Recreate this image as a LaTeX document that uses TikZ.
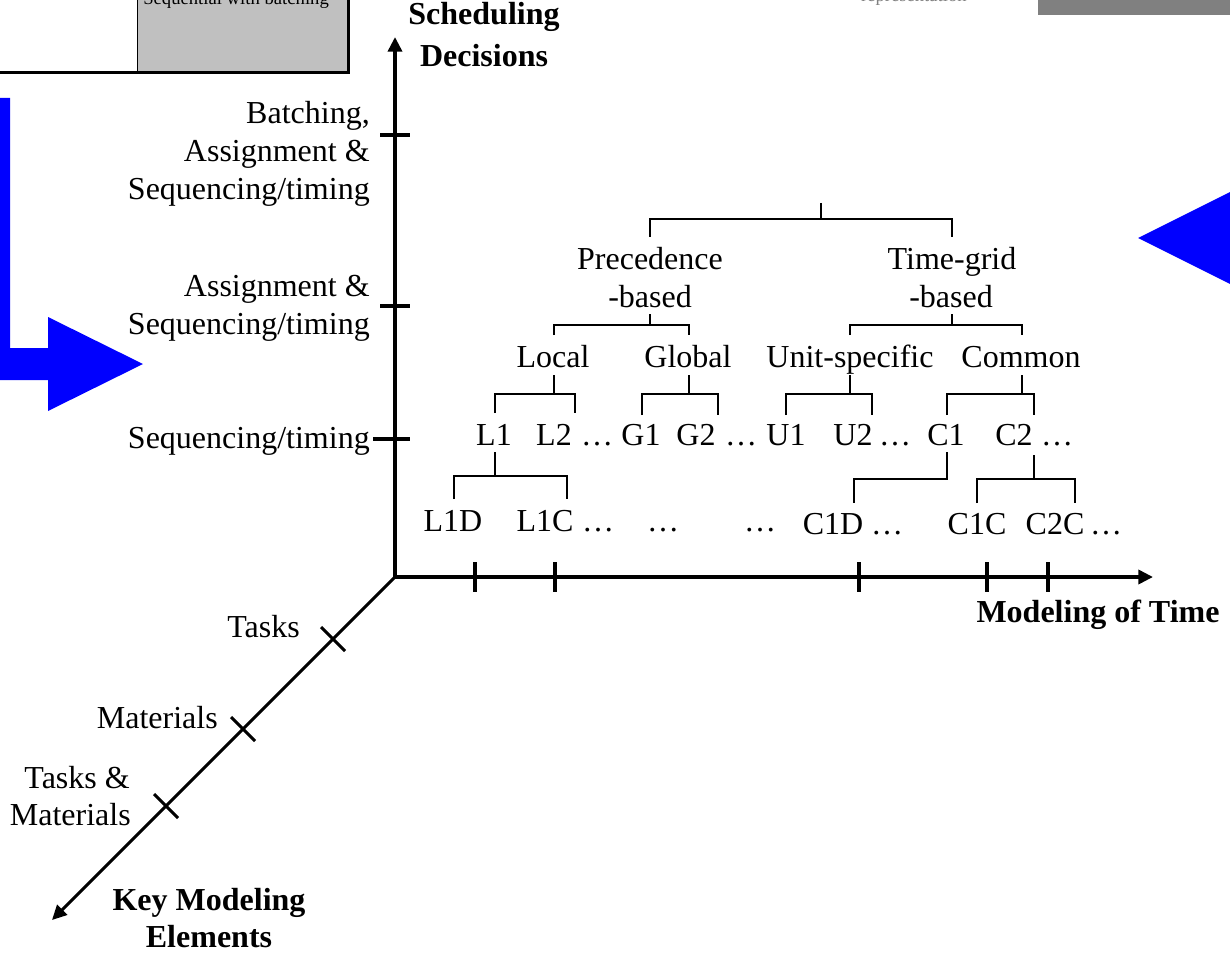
\documentclass[tikz,border=0pt]{standalone}
\usepackage{fontspec}
\setmainfont{Liberation Serif}
\usetikzlibrary{arrows.meta}
\definecolor{slideblue}{HTML}{0000FF}
\definecolor{boxgrey}{HTML}{C0C0C0}
\definecolor{bargrey}{HTML}{808080}
\begin{document}
\begin{tikzpicture}[x=0.75pt,y=-0.75pt,
  lbl/.style={font=\fontsize{24}{29}\selectfont, inner sep=0pt, anchor=base},
  ttl/.style={font=\bfseries\fontsize{24}{29}\selectfont, inner sep=0pt, anchor=base},
  small/.style={font=\fontsize{14}{16}\selectfont, inner sep=0pt},
  tree/.style={line width=1.5pt},
  axisline/.style={line width=2.7pt, line join=miter},
  tip/.tip={Triangle[length=11pt,width=10.5pt]},
  tickmark/.style={line width=2.7pt}]
\useasboundingbox (0,0) rectangle (1230,952);
\clip (0,0) rectangle (1230,952);

% blue block arrows
\fill[slideblue] (-22,98) -- (10,98) -- (10,348) -- (48,348) -- (48,317)
  -- (143,364) -- (48,411) -- (48,380) -- (-22,380) -- cycle;
\fill[slideblue] (1138,238) -- (1300,157) -- (1300,319) -- cycle;

% boxes along the top edge
\fill[boxgrey] (137.5,-5) rectangle (348.5,72.5);
\draw[line width=0.75pt] (137.5,-5) -- (137.5,72.5);
\draw[line width=2.3pt] (0,72.5) -- (348.5,72.5) -- (348.5,-5);
\node[small, anchor=base west] (seqbatch) at (143,5) {Sequential with batching};
\fill[bargrey] (1038,-5) rectangle (1235,15);
\node[small, anchor=base east, text=gray] (reprtxt) at (967,2) {representation};

% axes
\coordinate (O) at (395,577);
\coordinate (ytop) at (395,37);
\coordinate (xend) at (1153,577);
\coordinate (zend) at (52,920);
\draw[axisline, tip-tip] (ytop) -- (O) -- (xend);
\draw[axisline, line width=2.3pt, -tip] (O) -- (zend);

% ticks
\draw[tickmark] (380,135) -- (410,135);
\draw[tickmark] (380,306) -- (410,306);
\draw[tickmark] (373,439) -- (410,439);
\foreach \xx in {475,555,859,987,1048} \draw[tickmark] (\xx,562) -- (\xx,592);
\foreach \xx/\yy in {333/639,243/729,166/806}
  \draw[tickmark, line width=2.3pt] (\xx-12,\yy-12) -- (\xx+12,\yy+12);

% axis titles
\node[ttl] (sd1) at (484,25) {Scheduling};
\node[ttl] (sd2) at (484,67) {Decisions};
\node[ttl] (mt) at (1098,622) {Modeling of Time};
\node[ttl] (km1) at (209,910) {Key Modeling};
\node[ttl] (km2) at (209,947) {Elements};

% labels of the decision axis
\node[lbl, anchor=base east] (vb1) at (370,124) {Batching,};
\node[lbl, anchor=base east] (vb2) at (370,162) {Assignment \&};
\node[lbl, anchor=base east] (vb3) at (370,200) {Sequencing/timing};
\node[lbl, anchor=base east] (va1) at (370,296) {Assignment \&};
\node[lbl, anchor=base east] (va2) at (370,334) {Sequencing/timing};
\node[lbl, anchor=base east] (vs1) at (370,448) {Sequencing/timing};

% labels of the modeling-element axis
\node[lbl, anchor=base east] (dt) at (300,637) {Tasks};
\node[lbl, anchor=base east] (dm) at (218,728) {Materials};
\node[lbl, anchor=base east] (dtm1) at (130,788) {Tasks \&};
\node[lbl, anchor=base east] (dtm2) at (131,825) {Materials};

% classification tree: labels
\node[lbl] (prec) at (650,269) {Precedence};
\node[lbl] (precb) at (650,307) {-based};
\node[lbl] (tg) at (952,269) {Time-grid};
\node[lbl] (tgb) at (951,307) {-based};
\node[lbl] (local) at (553,367) {Local};
\node[lbl] (global) at (688,367) {Global};
\node[lbl] (unit) at (850,367) {Unit-specific};
\node[lbl] (common) at (1021,367) {Common};

\node[lbl] (l1) at (494,445) {L1};
\node[lbl] (l2) at (554,445) {L2};
\node[lbl] (ld) at (597,445) {…};
\node[lbl] (g1) at (641,445) {G1};
\node[lbl] (g2) at (696,445) {G2};
\node[lbl] (gd) at (741,445) {…};
\node[lbl] (u1) at (786,445) {U1};
\node[lbl] (u2) at (853,445) {U2};
\node[lbl] (ud) at (895,445) {…};
\node[lbl] (c1) at (946,445) {C1};
\node[lbl] (c2) at (1014,445) {C2};
\node[lbl] (cd) at (1057,445) {…};

\node[lbl] (l1d) at (453,531) {L1D};
\node[lbl] (l1c) at (545,531) {L1C};
\node[lbl] (l1x) at (598,531) {…};
\node[lbl] (gx) at (663,531) {…};
\node[lbl] (ux) at (760,531) {…};
\node[lbl] (c1d) at (833,534) {C1D};
\node[lbl] (c1x) at (887,534) {…};
\node[lbl] (c1c) at (977,534) {C1C};
\node[lbl] (c2c) at (1055,534) {C2C};
\node[lbl] (c2x) at (1106,534) {…};

% classification tree: brackets
\draw[tree] (821,203) -- (821,219);
\draw[tree] (650,237) |- (952,219) -- (952,237);
\draw[tree] (650,314) -- (650,325);
\draw[tree] (554,335) |- (689,325) -- (689,335);
\draw[tree] (952,314) -- (952,325);
\draw[tree] (850,335) |- (1022,325) -- (1022,335);
\draw[tree] (554,375) -- (554,394);
\draw[tree] (495,413) |- (575,394) -- (575,413);
\draw[tree] (689,375) -- (689,394);
\draw[tree] (642,415) |- (718,394) -- (718,415);
\draw[tree] (850,375) -- (850,394);
\draw[tree] (786,415) |- (872,394) -- (872,415);
\draw[tree] (1022,375) -- (1022,394);
\draw[tree] (947,415) |- (1034,394) -- (1034,415);
\draw[tree] (495,452) -- (495,476);
\draw[tree] (454,499) |- (567,476) -- (567,499);
\draw[tree] (947,452) |- (854,479) -- (854,503);
\draw[tree] (1034,455) -- (1034,479);
\draw[tree] (977,503) |- (1075,479) -- (1075,503);
\end{tikzpicture}
\end{document}
